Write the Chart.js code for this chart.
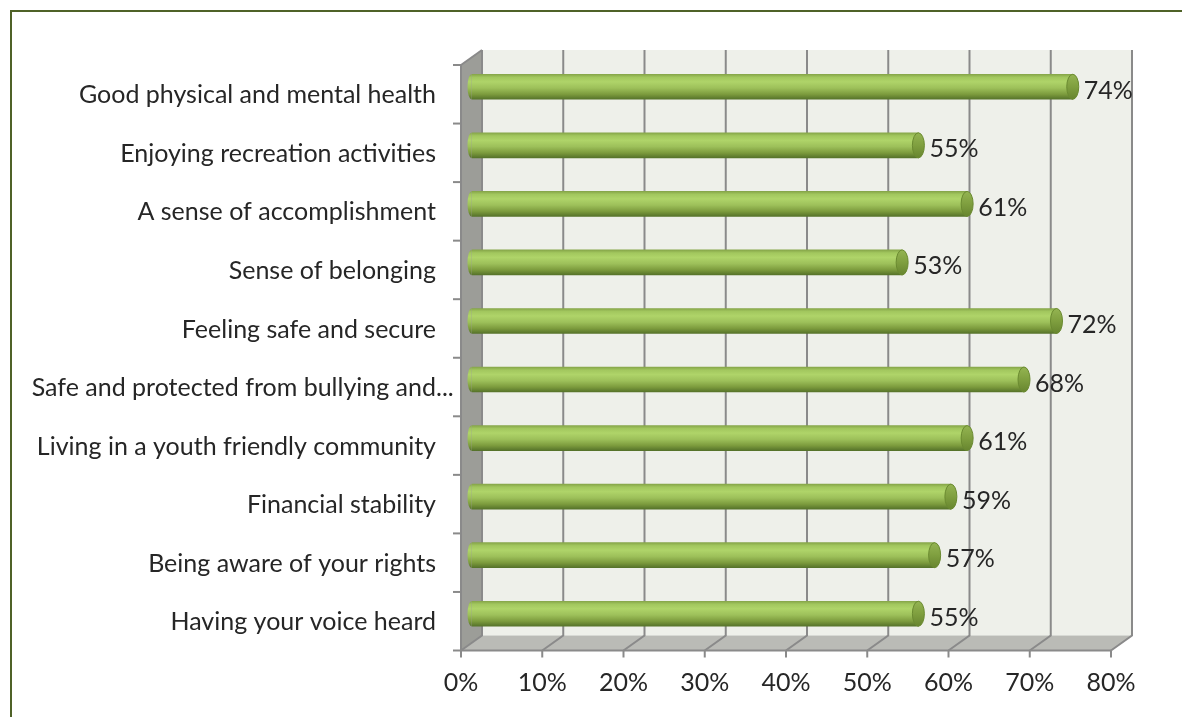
<!DOCTYPE html>
<html>
<head>
<meta charset="utf-8">
<script src="https://cdn.jsdelivr.net/npm/chart.js@4.4.1/dist/chart.umd.min.js"></script>
<style>
  html, body { margin: 0; padding: 0; background: #fff; }
  body { width: 1182px; height: 717px; overflow: hidden; position: relative; }
  #frame {
    position: absolute; left: 10px; top: 10px; width: 1200px; height: 740px;
    border-left: 2px solid #4f6228; border-top: 2px solid #4f6228;
  }
  #wrap { position: absolute; left: 0; top: 0; width: 1182px; height: 717px; }
</style>
</head>
<body>
<div id="frame"></div>
<div id="wrap"><canvas id="chart"></canvas></div>
<script>
// Categories, top to bottom
const categories = [
    'Good physical and mental health',
    'Enjoying recreation activities',
    'A sense of accomplishment',
    'Sense of belonging',
    'Feeling safe and secure',
    'Safe and protected from bullying and...',
    'Living in a youth friendly community',
    'Financial stability',
    'Being aware of your rights',
    'Having your voice heard'
];
const shares = [74, 55, 61, 53, 72, 68, 61, 59, 57, 55];
const tickValues = [0, 10, 20, 30, 40, 50, 60, 70, 80];

// Half of the 3D depth: bars sit in the middle, walls behind, axes in front
const DX = 10.5;
const DY = 7.5;
const FONT = { family: 'Lato', size: 25 };
const TEXT_COLOR = '#262626';
const LABEL_PAD = 35.5;
const ELLIPSIS = '...';

function cylinderGradient(ctx, yc, half) {
    const g = ctx.createLinearGradient(0, yc - half, 0, yc + half);
    g.addColorStop(0, '#86a649');
    g.addColorStop(0.12, '#a2c75e');
    g.addColorStop(0.3, '#afd469');
    g.addColorStop(0.55, '#9dc05a');
    g.addColorStop(0.8, '#7c9b3d');
    g.addColorStop(1, '#56732a');
    return g;
}

function barFill(c) {
    const chart = c.chart;
    if (c.dataIndex === undefined || !chart.chartArea || !chart.scales.y) return '#9bbb59';
    const yc = chart.scales.y.getPixelForValue(c.dataIndex);
    return cylinderGradient(chart.ctx, yc, 12.5);
}

function line(ctx, pts) {
    ctx.beginPath();
    ctx.moveTo(pts[0][0], pts[0][1]);
    for (let i = 1; i < pts.length; i++) ctx.lineTo(pts[i][0], pts[i][1]);
    ctx.stroke();
}

function poly(ctx, pts, fill) {
    ctx.beginPath();
    ctx.moveTo(pts[0][0], pts[0][1]);
    for (let i = 1; i < pts.length; i++) ctx.lineTo(pts[i][0], pts[i][1]);
    ctx.closePath();
    ctx.fillStyle = fill;
    ctx.fill();
}

// Back wall, side wall, floor and the grid that goes with them
const wallsPlugin = {
    id: 'walls',
    beforeDatasetsDraw(chart) {
        const { ctx, scales: { x, y } } = chart;
        const x0 = x.getPixelForValue(tickValues[0]);
        const x1 = x.getPixelForValue(tickValues[tickValues.length - 1]);
        const top = y.top, bottom = y.bottom;
        ctx.save();

        ctx.fillStyle = '#eef0ea';
        ctx.fillRect(x0 + DX, top - DY, x1 - x0, bottom - top);

        poly(ctx, [[x0 - DX, top + DY], [x0 + DX, top - DY], [x0 + DX, bottom - DY], [x0 - DX, bottom + DY]], '#9c9d98');
        poly(ctx, [[x0 - DX, bottom + DY], [x0 + DX, bottom - DY], [x1 + DX, bottom - DY], [x1 - DX, bottom + DY]], '#babbb6');

        ctx.strokeStyle = '#8a8a8a';
        ctx.lineWidth = 2;
        tickValues.forEach(v => {
            const px = x.getPixelForValue(v);
            line(ctx, [[px + DX, top - DY], [px + DX, bottom - DY], [px - DX, bottom + DY]]);
            line(ctx, [[px - DX, bottom + DY], [px - DX, bottom + DY + 7]]);
        });

        // front edges: value axis and category axis
        line(ctx, [[x0 - DX, bottom + DY], [x1 - DX, bottom + DY]]);
        line(ctx, [[x0 - DX, top + DY], [x0 - DX, bottom + DY]]);
        line(ctx, [[x0 - DX, top + DY], [x0 + DX, top - DY]]);

        const step = y.getPixelForValue(1) - y.getPixelForValue(0);
        for (let i = 0; i <= categories.length; i++) {
            const py = y.getPixelForValue(0) - step / 2 + i * step + DY;
            line(ctx, [[x0 - DX - 8, py], [x0 - DX, py]]);
        }
        ctx.restore();
    },
    afterDatasetsDraw(chart) {
        const { ctx } = chart;
        const meta = chart.getDatasetMeta(0);
        ctx.save();
        meta.data.forEach((bar, i) => {
            const { x: xe, y: yc, base, height } = bar.getProps(['x', 'y', 'base', 'height'], true);
            const half = height / 2;

            // rounded start of the cylinder
            ctx.beginPath();
            ctx.ellipse(base, yc, 4, half, 0, Math.PI / 2, Math.PI * 1.5);
            ctx.fillStyle = cylinderGradient(ctx, yc, half);
            ctx.fill();

            // end cap
            const cap = ctx.createLinearGradient(0, yc - half, 0, yc + half);
            cap.addColorStop(0, '#94b452');
            cap.addColorStop(0.5, '#7f9f3f');
            cap.addColorStop(1, '#67852f');
            ctx.beginPath();
            ctx.ellipse(xe, yc, 6, half, 0, 0, Math.PI * 2);
            ctx.fillStyle = cap;
            ctx.fill();
            ctx.strokeStyle = '#6a8a30';
            ctx.lineWidth = 1;
            ctx.stroke();

            ctx.font = `${FONT.size}px ${FONT.family}`;
            ctx.fillStyle = TEXT_COLOR;
            ctx.textAlign = 'left';
            ctx.textBaseline = 'middle';
            ctx.fillText(shares[i] + '%', xe + 11, yc + 4);
        });
        ctx.restore();
    },
    // shortened category names let their "..." hang past the label edge
    afterDraw(chart) {
        const { ctx, scales: { y } } = chart;
        ctx.save();
        ctx.font = `${FONT.size}px ${FONT.family}`;
        ctx.fillStyle = TEXT_COLOR;
        ctx.textAlign = 'right';
        ctx.textBaseline = 'middle';
        const hang = ctx.measureText(ELLIPSIS).width;
        categories.forEach((name, i) => {
            if (!name.endsWith(ELLIPSIS)) return;
            ctx.fillText(name, y.right - LABEL_PAD + hang, y.getPixelForValue(i) + DY + 1);
        });
        ctx.restore();
    }
};

new Chart(document.getElementById('chart'), {
    type: 'bar',
    data: {
        labels: categories,
        datasets: [{
            data: shares,
            backgroundColor: barFill,
            borderWidth: 0,
            barThickness: 25
        }]
    },
    options: {
        indexAxis: 'y',
        responsive: true,
        maintainAspectRatio: false,
        animation: false,
        layout: { padding: { top: 57.5, right: 60.5, bottom: 0, left: 0 } },
        plugins: {
            legend: { display: false },
            tooltip: { enabled: false }
        },
        scales: {
            x: {
                min: 0,
                max: 80,
                afterFit(scale) { scale.height = 74; },
                afterBuildTicks(scale) { scale.ticks = tickValues.map(v => ({ value: v })); },
                grid: { display: false, drawTicks: false },
                border: { display: false },
                ticks: {
                    padding: 25,
                    labelOffset: -DX,
                    color: TEXT_COLOR,
                    font: FONT,
                    callback: v => v + '%'
                }
            },
            y: {
                afterFit(scale) { scale.width = 471.5; },
                grid: { display: false, drawTicks: false },
                border: { display: false },
                ticks: {
                    padding: LABEL_PAD,
                    labelOffset: DY + 1,
                    color: c => categories[c.index] && categories[c.index].endsWith(ELLIPSIS) ? 'rgba(0,0,0,0)' : TEXT_COLOR,
                    font: FONT
                }
            }
        }
    },
    plugins: [wallsPlugin]
});
</script>
</body>
</html>
